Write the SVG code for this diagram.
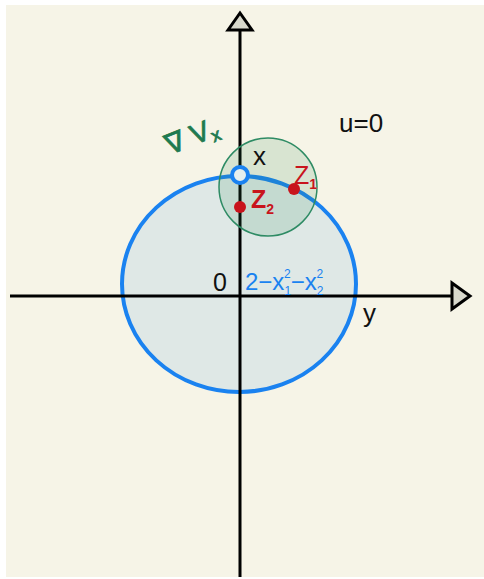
<svg xmlns="http://www.w3.org/2000/svg" width="484" height="579" viewBox="0 0 484 579">
<style>
.ax{stroke:#000;stroke-width:3;fill:none}
.ah{fill:#d8d8cc;stroke:#000;stroke-width:3;stroke-linejoin:miter}
.t{font-family:"Liberation Sans",Arial,sans-serif;fill:#111}
.red{fill:#c8141c}
</style>
<rect x="6" y="5" width="478" height="572" fill="#f6f4e7"/>
<g id="disk">
<ellipse cx="239" cy="284" rx="117" ry="108" fill="#dfe8e6" stroke="#1a82f0" stroke-width="4"/>
</g>
<g id="connectors">
<line class="ax" x1="240" y1="577" x2="240" y2="30"/>
<line class="ax" x1="10" y1="296" x2="452" y2="296"/>
<polygon class="ah" points="228,30 240,13 252,30"/>
<polygon class="ah" points="452,283 470,296 452,309"/>
</g>
<g id="nbhd">
<circle cx="268" cy="187" r="49" fill="#2e8b57" fill-opacity="0.15" stroke="#2e8b64" stroke-width="1.5"/>
</g>
<g id="x">
<circle cx="240" cy="175" r="8" fill="#e6efee" stroke="#1a82f0" stroke-width="4"/>
<text class="t" x="253" y="165" font-size="26">x</text>
</g>
<g id="z1">
<circle cx="294" cy="189" r="6" class="red"/>
<text x="294" y="184" font-size="25" font-family="Liberation Sans,sans-serif" class="red">Z<tspan font-size="14" font-weight="bold" dy="5">1</tspan></text>
</g>
<g id="z2">
<circle cx="240" cy="207" r="6" class="red"/>
<text x="251" y="208" font-size="25" font-family="Liberation Sans,sans-serif" class="red" font-weight="bold">Z<tspan font-size="14" dy="6">2</tspan></text>
</g>
<g id="grad">
<text transform="translate(170,155) rotate(-22)" font-size="28" font-family="Liberation Sans,sans-serif" fill="#1e7a50" stroke="#1e7a50" stroke-width="0.8">∇ V<tspan font-size="18" dy="5">x</tspan></text>
</g>
<g id="labels">
<text class="t" x="213" y="291" font-size="25">0</text>
<text class="t" x="363" y="322" font-size="26">y</text>
<text class="t" x="339" y="132" font-size="26">u=0</text>
<text x="245" y="290" font-size="24" font-family="Liberation Sans,sans-serif" fill="#1a82f0">2−x<tspan font-size="12" dy="5">1</tspan><tspan font-size="12" dx="-7" dy="-17">2</tspan><tspan dy="12">−x</tspan><tspan font-size="12" dy="5">2</tspan><tspan font-size="12" dx="-7" dy="-17">2</tspan></text>
</g>
</svg>
